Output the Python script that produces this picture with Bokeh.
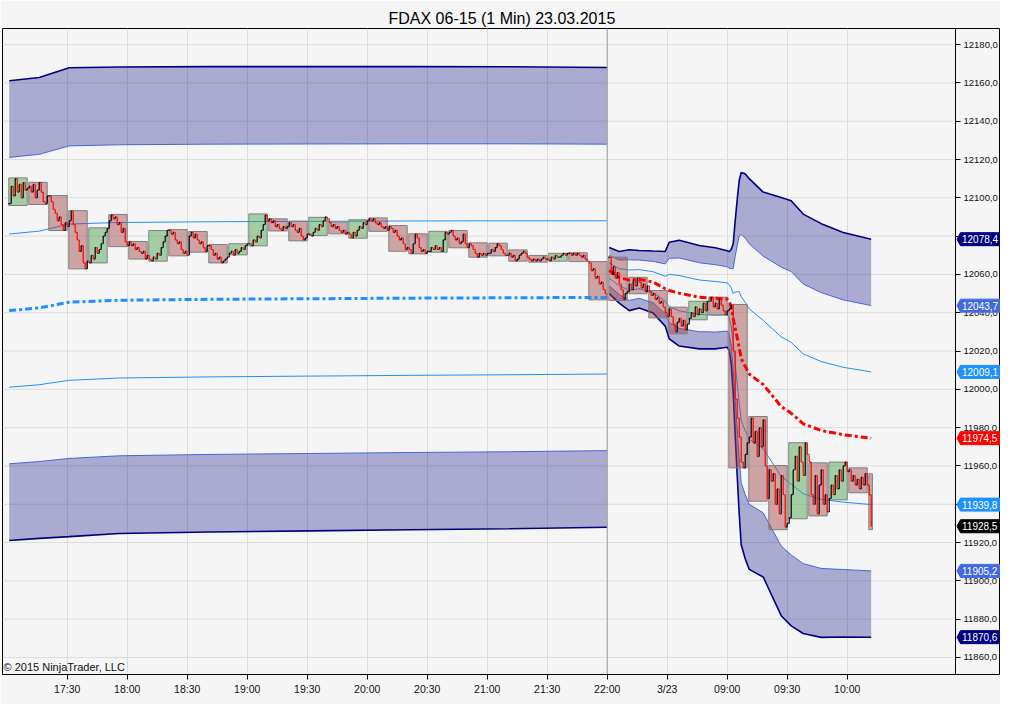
import numpy as np
from bokeh.plotting import figure
from bokeh.models import Range1d, FixedTicker, Label, PolyAnnotation, Span, ColumnDataSource
from bokeh.embed import file_html
from bokeh.resources import INLINE

# ---------------- data ----------------
title_text = "FDAX 06-15 (1 Min)  23.03.2015"
copyright_text = "\u00a9 2015 NinjaTrader, LLC"

x_tick_pos = [29, 59, 89, 119, 149, 179, 209, 239, 269, 299, 329, 359, 389, 419]
x_tick_labels = ["17:30", "18:00", "18:30", "19:00", "19:30", "20:00", "20:30",
                 "21:00", "21:30", "22:00", "3/23", "09:00", "09:30", "10:00"]
y_ticks = [11860, 11880, 11900, 11920, 11940, 11960, 11980, 12000, 12020,
           12040, 12060, 12080, 12100, 12120, 12140, 12160, 12180]

# 1-minute closes, prior session (bars 0..299)
prior_closes = [
    12097, 12106, 12101, 12110, 12103, 12107, 12100, 12108, 12104, 12105,
    12106, 12103, 12107, 12100, 12104, 12108, 12103, 12098, 12097, 12101,
    12101, 12098, 12094, 12092, 12088, 12090, 12086, 12083, 12087, 12085,
    12088, 12093, 12086, 12082, 12078, 12072, 12075, 12066, 12063, 12067,
    12066, 12070, 12068, 12074, 12071, 12073, 12076, 12080, 12082, 12084,
    12088, 12091, 12089, 12090, 12086, 12087, 12082, 12084, 12077, 12075,
    12077, 12075, 12076, 12073, 12074, 12072, 12071, 12072, 12068, 12070,
    12068, 12067, 12069, 12068, 12071, 12070, 12074, 12077, 12080, 12083,
    12083, 12081, 12082, 12078, 12076, 12077, 12073, 12071, 12072, 12070,
    12080, 12082, 12079, 12081, 12078, 12076, 12077, 12074, 12072, 12075,
    12075, 12073, 12070, 12071, 12068, 12069, 12066, 12067, 12068, 12069,
    12071, 12072, 12070, 12073, 12071, 12072, 12074, 12073, 12075, 12076,
    12076, 12075, 12078, 12077, 12080, 12079, 12083, 12086, 12091, 12088,
    12089, 12087, 12088, 12085, 12086, 12084, 12083, 12085, 12084, 12085,
    12087, 12085, 12086, 12083, 12082, 12084, 12080, 12078, 12079, 12081,
    12081, 12080, 12082, 12084, 12083, 12086, 12085, 12088, 12090, 12089,
    12087, 12085, 12086, 12084, 12085, 12083, 12082, 12083, 12081, 12082,
    12081, 12079, 12082, 12080, 12083, 12085, 12084, 12087, 12086, 12088,
    12089, 12088, 12089, 12087, 12086, 12087, 12085, 12084, 12085, 12083,
    12085, 12084, 12082, 12083, 12080, 12078, 12079, 12076, 12073, 12074,
    12073, 12071, 12076, 12081, 12079, 12074, 12072, 12073, 12071, 12072,
    12072, 12074, 12073, 12075, 12073, 12074, 12072, 12078, 12082, 12081,
    12082, 12083, 12080, 12078, 12079, 12076, 12077, 12081, 12076, 12074,
    12076, 12075, 12073, 12071, 12069, 12071, 12070, 12071, 12070, 12071,
    12071, 12073, 12072, 12074, 12076, 12075, 12073, 12071, 12070, 12070,
    12071, 12069, 12070, 12067, 12068, 12070, 12071, 12072, 12071, 12069,
    12068, 12067, 12068, 12067, 12068, 12067, 12068, 12069, 12068, 12068,
    12067, 12069, 12068, 12070, 12069, 12069, 12070, 12071, 12070, 12071,
    12071, 12070, 12071, 12070, 12071, 12070, 12069, 12070, 12068, 12067,
    12066, 12062, 12063, 12058, 12059, 12055, 12056, 12052, 12050, 12047,
]

# 1-minute closes, current session (bars 300..431)
current_closes = [
    12069, 12060, 12064, 12058, 12061, 12055, 12052, 12047, 12050, 12051,
    12055, 12052, 12057, 12054, 12058, 12056, 12053, 12055, 12051, 12054,
    12051, 12049, 12050, 12047, 12048, 12045, 12046, 12043, 12040, 12038,
    12042, 12038, 12034, 12030, 12035, 12037, 12033, 12036, 12031, 12034,
    12037, 12040, 12038, 12043, 12039, 12042, 12040, 12045, 12041, 12046,
    12046, 12048, 12043, 12045, 12042, 12047, 12044, 12041, 12039, 12041,
    12042, 12044, 12020, 11995, 11985, 11975, 11962, 11959, 11966, 11972,
    11975, 11985, 11972, 11978, 11965, 11980, 11970, 11984, 11960, 11943,
    11958, 11952, 11956, 11940, 11948, 11935, 11955, 11945, 11928, 11930,
    11933, 11945, 11958, 11965, 11952, 11970, 11962, 11955, 11972, 11966,
    11962, 11945, 11940, 11955, 11935, 11950, 11958, 11940, 11945, 11936,
    11943, 11950, 11945, 11955, 11948, 11958, 11952, 11960, 11962, 11957,
    11958, 11952, 11955, 11950, 11953, 11948, 11954, 11950, 11956, 11950,
    11945, 11928.5,
]

# 10-minute range boxes
box_high = [12110.4, 12108.1, 12101.2, 12093.3, 12084.3, 12091.3, 12077.2, 12082.9, 12083.4, 12082.4,
            12075.6, 12076.0, 12091.6, 12089.0, 12087.8, 12089.8, 12087.3, 12088.5, 12089.5, 12085.5,
            12081.2, 12082.5, 12082.9, 12076.5, 12076.3, 12072.8, 12069.9, 12071.0, 12071.3, 12066.7,
            12069.0, 12058.5, 12051.6, 12042.9, 12046.0, 12048.1, 12044.3, 11985.8, 11960.2, 11972.1,
            11961.6, 11962.0, 11959.0, 11955.9]
box_low = [12096.0, 12096.5, 12082.9, 12062.9, 12066.0, 12074.5, 12068.0, 12066.9, 12069.7, 12071.6,
           12066.0, 12070.2, 12074.9, 12082.7, 12077.5, 12080.3, 12081.2, 12078.9, 12082.5, 12072.1,
           12070.7, 12071.6, 12073.9, 12069.0, 12069.7, 12066.9, 12066.4, 12066.9, 12066.7, 12046.7,
           12046.4, 12049.9, 12037.3, 12029.0, 12036.3, 12038.9, 11959.0, 11941.6, 11926.7, 11932.4,
           11933.9, 11942.3, 11946.0, 11926.7]
box_up = [1, 0, 0, 0, 1, 0, 0, 1, 0, 0,
          0, 1, 1, 0, 0, 1, 0, 1, 0, 0,
          0, 1, 0, 0, 0, 0, 0, 1, 0, 0,
          0, 0, 0, 0, 1, 0, 0, 0, 0, 1,
          0, 1, 0, 0]

# VWAP and standard deviation, prior session
prior_idx = [0, 15, 30, 55, 100, 150, 200, 250, 299]
prior_vwap = [12041.1, 12042.5, 12045.5, 12046.5, 12047.0, 12047.3, 12047.6, 12047.8, 12048.0]
prior_sd = [40.0, 40.1, 40.8, 40.6, 40.5, 40.4, 40.3, 40.2, 40.0]

# VWAP and standard deviation, current session
cur_idx = [300, 305, 310, 315, 322, 328, 330, 335, 345, 353, 359, 360, 361, 362, 363,
           364, 365, 366, 368, 370, 377, 386, 391, 397, 406, 417, 431]
cur_vwap = [12062.0, 12058.5, 12057.0, 12057.5, 12056.0, 12052.5, 12051.6, 12050.2, 12048.1,
            12047.5, 12047.2, 12046.0, 12043.0, 12037.0, 12032.0, 12027.0, 12022.0, 12016.0,
            12012.0, 12008.0, 12002.5, 11991.0, 11987.5, 11982.0, 11978.5, 11976.3, 11974.47]
cur_sd = [4.0, 4.5, 5.3, 5.0, 5.4, 6.5, 8.4, 9.2, 9.0, 8.8, 8.4, 8.6, 10.0, 13.0, 18.7,
          24.0, 29.0, 32.4, 33.5, 34.0, 33.5, 36.4, 37.0, 36.5, 36.0, 35.2, 34.64]

# right-axis price markers
tag_values = [12078.4, 12043.7, 12009.1, 11974.5, 11939.8, 11928.5, 11905.2, 11870.6]

# ---------------- styles ----------------
BG = "#f5f5f5"
NAVY = "#000080"
ROYAL = "#4169e1"
DODGER = "#1e90ff"
RED = "#ff0000"
tag_colors = [NAVY, ROYAL, DODGER, RED, DODGER, "#000000", ROYAL, NAVY]
FONT = "Liberation Sans"

X0, X1 = -3.35, 495.65      # frame spans canvas x 2..1000
AX = 473.15                 # price axis location (canvas x 955)
Y0, Y1 = 11851.1, 12188.4   # frame spans canvas y 28..674

p = figure(width=1000, height=704, x_range=Range1d(X0, X1), y_range=Range1d(Y0, Y1),
           y_axis_location="right", toolbar_location=None, output_backend="svg",
           min_border_left=2, min_border_right=0, min_border_top=28, min_border_bottom=30)
p.background_fill_color = BG
p.border_fill_color = BG
p.outline_line_color = "black"
p.outline_line_alpha = 1.0

p.title.text = title_text
p.title.align = "left"
p.title.offset = 386
p.title.vertical_align = "top"
p.title.standoff = 0
p.title.text_font = FONT
p.title.text_font_size = "16px"
p.title.text_font_style = "normal"
p.title.text_color = "black"

xt = FixedTicker(ticks=x_tick_pos)
p.xaxis.ticker = xt
p.xgrid.ticker = xt
p.xaxis.major_label_overrides = {t: l for t, l in zip(x_tick_pos, x_tick_labels)}
p.xaxis.bounds = (X0, AX)
yt = FixedTicker(ticks=y_ticks)
p.yaxis.ticker = yt
p.yaxis.fixed_location = AX
p.yaxis.major_label_overrides = {t: f"{t:.1f}".replace(".", ",") for t in y_ticks}
for ax in (p.xaxis, p.yaxis):
    ax.major_tick_in = 0
    ax.major_tick_out = 5
    ax.minor_tick_line_color = None
    ax.axis_line_color = "black"
    ax.major_tick_line_color = "black"
    ax.major_label_text_font = FONT
    ax.major_label_text_color = "#111111"
p.xaxis.major_label_text_font_size = "10.5px"
p.yaxis.major_label_text_font_size = "9.5px"
p.xaxis.major_label_standoff = 3
p.yaxis.major_label_standoff = 3
p.xgrid.grid_line_color = "#dcdcdc"
p.ygrid.visible = False

# horizontal grid lines, limited to the price area
p.segment(x0=[X0] * len(y_ticks), x1=[AX] * len(y_ticks), y0=y_ticks, y1=y_ticks,
          line_color="#dcdcdc", line_width=1)

p.add_layout(Span(location=299, dimension="height", line_color="#a0a0a0", line_width=1))

# ---------------- VWAP bands ----------------
def draw_bands(idx, vwap, sd):
    idx = np.array(idx, dtype=float)
    vw = np.array(vwap)
    s = np.array(sd)
    p.varea(x=idx, y1=vw + 2 * s, y2=vw + 3 * s, fill_color=NAVY, fill_alpha=0.3)
    p.varea(x=idx, y1=vw - 3 * s, y2=vw - 2 * s, fill_color=NAVY, fill_alpha=0.3)
    p.line(idx, vw + 3 * s, line_color=NAVY, line_width=1.6)
    p.line(idx, vw - 3 * s, line_color=NAVY, line_width=1.6)
    p.line(idx, vw + 2 * s, line_color=ROYAL, line_width=1)
    p.line(idx, vw - 2 * s, line_color=ROYAL, line_width=1)
    p.line(idx, vw + 1 * s, line_color=DODGER, line_width=1)
    p.line(idx, vw - 1 * s, line_color=DODGER, line_width=1)
    return idx, vw

pi, pv = draw_bands(prior_idx, prior_vwap, prior_sd)
ci, cv = draw_bands(cur_idx, cur_vwap, cur_sd)

# ---------------- 10-minute boxes ----------------
n_bars = len(prior_closes) + len(current_closes)
bl, br, bt, bb, bc = [], [], [], [], []
for k in range(len(box_high)):
    bl.append(10 * k - 0.2)
    br.append(min(10 * k + 9, n_bars - 0.4))
    bt.append(box_high[k])
    bb.append(box_low[k])
    bc.append("#40a040" if box_up[k] else "#a04040")
p.quad(left=bl, right=br, top=bt, bottom=bb, fill_color=bc, fill_alpha=0.45,
       line_color="#7f7f7f", line_width=1)

# VWAP lines
p.line(pi, pv, line_color=DODGER, line_width=3, line_dash="7 3 3 3")
p.line(ci, cv, line_color=RED, line_width=3, line_dash="7 3 3 3")

# ---------------- 1-minute bars ----------------
x0s, y0s, x1s, y1s, cols = [], [], [], [], []
def add_session(start, closes):
    prev = closes[0]
    for k, c in enumerate(closes):
        i = start + k
        o = prev
        col = "#000000" if c >= o else RED
        x0s.extend([i, i - 0.45, i]); y0s.extend([o, o, c])
        x1s.extend([i, i, i + 0.45]); y1s.extend([c, o, c])
        cols.extend([col] * 3)
        prev = c

add_session(0, prior_closes)
add_session(len(prior_closes), current_closes)
src = ColumnDataSource(dict(x0=x0s, y0=y0s, x1=x1s, y1=y1s, c=cols))
p.segment(x0="x0", y0="y0", x1="x1", y1="y1", line_color="c", line_width=1.2, source=src)

# ---------------- texts ----------------
px_per_pt = 646.0 / (Y1 - Y0)
p.add_layout(Label(x=X0 + 0.5, y=Y0 + 2 / px_per_pt, text=copyright_text, text_align="left",
                   text_baseline="bottom", text_font=FONT, text_font_size="11px",
                   text_color="#111111"))

# right-axis price markers
half = 6.5 / px_per_pt
for v, c in zip(tag_values, tag_colors):
    tip = AX + 0.75
    bx0 = AX + 2.5
    bx1 = X1
    p.add_layout(PolyAnnotation(xs=[tip, bx0, bx1, bx1, bx0], ys=[v, v + half, v + half, v - half, v - half],
                                fill_color=c, fill_alpha=1.0, line_color=c, line_alpha=1.0, line_width=1))
    p.add_layout(Label(x=bx0, y=v, x_offset=1.5, text=f"{v:.1f}".replace(".", ","),
                       text_baseline="middle", text_align="left", text_font=FONT,
                       text_font_size="10px", text_color="white"))

open("out.html", "w").write(file_html(p, INLINE))
